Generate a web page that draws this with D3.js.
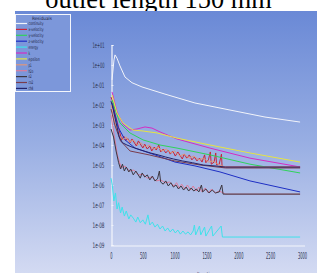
<!DOCTYPE html>
<html>
<head>
<meta charset="utf-8">
<script src="https://cdn.jsdelivr.net/npm/d3@7"></script>
<style>
  body { margin: 0; background: #fff; }
  svg { display: block; }
</style>
</head>
<body>
<script>
// residual histories, [iteration, residual]
const continuity = [[16, 0.18], [47, 1.8], [63, 3.2], [94, 2.2], [141, 0.9], [220, 0.25], [330, 0.13], [487, 0.08],
  [848, 0.035], [1319, 0.0126], [1869, 5.6e-3], [2419, 2.5e-3], [2970, 1.4e-3]];

const xVelocity = [[0, 2.5e-2], [30, 1.3e-2], [60, 4e-3], [100, 1.3e-3], [140, 4e-4], [170, 1.8e-4], [200, 2.8e-4],
  [230, 1.6e-4], [260, 2.2e-4], [300, 1.3e-4], [330, 2e-4], [360, 1.4e-4], [400, 8.9e-5], [430, 1.6e-4],
  [470, 1e-4], [500, 7.1e-5], [530, 1.1e-4], [570, 6.3e-5], [610, 8.9e-5], [640, 5e-5], [680, 7.9e-5],
  [710, 5.6e-5], [750, 1e-4], [780, 4.5e-5], [820, 6.3e-5], [860, 4e-5], [900, 5.6e-5], [930, 3.5e-5],
  [970, 5e-5], [1010, 2.8e-5], [1050, 4.5e-5], [1080, 3.2e-5], [1120, 2e-5], [1150, 3.5e-5], [1190, 2.2e-5],
  [1230, 3.2e-5], [1270, 1.8e-5], [1310, 2.5e-5], [1350, 1.6e-5], [1390, 2.2e-5], [1430, 1.4e-5], [1470, 3.2e-5],
  [1490, 1.3e-5], [1530, 1.8e-5], [1560, 4.5e-5], [1575, 1.1e-5], [1620, 1.4e-5], [1645, 4e-5], [1660, 1e-5],
  [1700, 1.1e-5], [1735, 3.5e-5], [1745, 7.9e-6], [2970, 7.9e-6]];

const yVelocity = [[16, 1.8e-2], [78, 4.5e-3], [141, 1.26e-3], [298, 4e-4], [503, 1.8e-4], [770, 1e-4],
  [1037, 7e-5], [1555, 3.2e-5], [2183, 1.1e-5], [2970, 4e-6]];

const zVelocity = [[16, 1.26e-2], [31, 8e-3], [110, 8e-4], [220, 1.8e-4], [377, 7e-5], [691, 3.2e-5],
  [1005, 1.4e-5], [1319, 9e-6], [1712, 4.5e-6], [2183, 1.6e-6], [2970, 4.5e-7]];

const energy = [[0, 2.2e-6], [20, 1e-6], [45, 1.6e-7], [70, 4e-7], [95, 6.3e-8], [120, 1.3e-7], [150, 4e-8],
  [175, 7.9e-8], [210, 2.8e-8], [240, 5e-8], [280, 2e-8], [310, 3.2e-8], [350, 2.2e-8], [390, 1.4e-8],
  [420, 2.5e-8], [460, 1.3e-8], [500, 1.8e-8], [540, 1.1e-8], [580, 3.2e-8], [610, 1e-8], [650, 1.4e-8],
  [690, 7.9e-9], [730, 1.1e-8], [770, 6.3e-9], [810, 8.9e-9], [850, 5e-9], [890, 7.1e-9], [930, 4.5e-9],
  [970, 6.3e-9], [1010, 4e-9], [1050, 5.6e-9], [1090, 3.5e-9], [1130, 5e-9], [1170, 3.5e-9], [1210, 4.5e-9],
  [1250, 3.2e-9], [1290, 5e-9], [1310, 1e-8], [1330, 3.2e-9], [1390, 8.9e-9], [1410, 3.2e-9], [1470, 7.9e-9],
  [1490, 2.8e-9], [1580, 8.9e-9], [1600, 2.8e-9], [1730, 8.9e-9], [1750, 2.5e-9], [2970, 2.5e-9]];

const kRes = [[16, 4.5e-2], [94, 4.5e-3], [188, 1.1e-3], [298, 5.6e-4], [408, 6.3e-4], [534, 8e-4], [644, 7e-4],
  [770, 4.5e-4], [1037, 2e-4], [1555, 7e-5], [2183, 2.2e-5], [2970, 8e-6]];

const epsilon = [[16, 3.2e-2], [94, 4e-3], [188, 1.26e-3], [346, 5.6e-4], [503, 5e-4], [723, 4e-4],
  [1037, 2.2e-4], [1555, 1e-4], [2183, 4e-5], [2970, 1.4e-5]];

const p1 = [[0, 1e-2], [50, 1.6e-3], [120, 3.2e-4], [190, 1.8e-4], [240, 2.5e-4], [290, 1.4e-4], [350, 1.8e-4],
  [420, 1e-4], [470, 1.3e-4], [540, 7.9e-5], [600, 1e-4], [670, 6.3e-5], [740, 7.9e-5], [800, 5e-5],
  [870, 6.3e-5], [940, 4e-5], [1000, 5e-5], [1080, 2.8e-5], [1150, 3.5e-5], [1230, 2.2e-5], [1300, 2.8e-5],
  [1380, 1.8e-5], [1450, 2.2e-5], [1530, 1.4e-5], [1600, 1.6e-5], [1700, 1e-5], [1800, 7.9e-6], [2970, 7.9e-6]];

const h2o = [[0, 3.2e-3], [50, 3.2e-4], [100, 3.2e-5], [160, 7.1e-6], [220, 8.9e-6], [290, 5e-6], [360, 5.6e-6],
  [430, 3.2e-6], [500, 3.5e-6], [570, 2.2e-6], [640, 2.5e-6], [710, 1.6e-6], [780, 1.8e-6], [850, 1.3e-6],
  [920, 1.4e-6], [990, 8.9e-7], [1030, 1.3e-6], [1070, 7.1e-7], [1110, 1.1e-6], [1160, 6.3e-7], [1200, 1e-6],
  [1250, 5.6e-7], [1290, 8.9e-7], [1340, 5e-7], [1380, 7.9e-7], [1430, 4.5e-7], [1480, 7.1e-7], [1530, 4e-7],
  [1580, 6.3e-7], [1640, 4e-7], [1700, 5e-7], [1800, 3.5e-7], [2970, 3.5e-7]];

const o2 = [[0, 6.3e-4], [40, 2.5e-4], [80, 5e-5], [120, 1.3e-5], [150, 6.3e-6], [180, 1.1e-5], [210, 5e-6],
  [240, 7.9e-6], [280, 4.5e-6], [310, 6.3e-6], [350, 3.2e-6], [390, 5e-6], [420, 3.5e-6], [460, 2.2e-6],
  [490, 4e-6], [530, 2.5e-6], [570, 3.2e-6], [610, 1.8e-6], [650, 2.8e-6], [690, 1.6e-6], [730, 2e-6],
  [760, 5e-6], [780, 1.4e-6], [820, 1.1e-6], [860, 1.6e-6], [900, 8.9e-7], [940, 1.3e-6], [980, 7.9e-7],
  [1020, 1e-6], [1060, 6.3e-7], [1100, 8.9e-7], [1140, 5.6e-7], [1180, 7.9e-7], [1220, 5e-7], [1260, 7.1e-7],
  [1300, 5e-7], [1340, 6.3e-7], [1380, 4.5e-7], [1420, 1e-6], [1440, 4.5e-7], [1490, 6.3e-7], [1540, 4e-7],
  [1590, 5.6e-7], [1640, 4e-7], [1700, 4.5e-7], [1740, 1e-6], [1760, 3.5e-7], [2970, 3.5e-7]];

const co2 = [[0, 6.3e-3], [60, 1e-3], [150, 1.6e-4], [300, 5e-5], [600, 3.2e-5], [1000, 1.6e-5],
  [1400, 1e-5], [1800, 7.1e-6], [2970, 7.1e-6]];

const ch4 = [[0, 1.6e-2], [40, 5e-3], [80, 1.3e-3], [130, 2.5e-4], [180, 1.3e-4], [250, 1e-4], [330, 7.9e-5],
  [420, 6.3e-5], [520, 5e-5], [620, 4e-5], [740, 3.2e-5], [860, 2.5e-5], [980, 2e-5], [1120, 1.6e-5],
  [1280, 1.3e-5], [1450, 1e-5], [1650, 8.9e-6], [1800, 7.9e-6], [2970, 7.9e-6]];

const seriesNames = ["continuity", "x-velocity", "y-velocity", "z-velocity", "energy", "k", "epsilon",
  "p1", "h2o", "o2", "co2", "ch4"];
const seriesData = [continuity, xVelocity, yVelocity, zVelocity, energy, kRes, epsilon, p1, h2o, o2, co2, ch4];
const seriesColors = ["#f2f4fa", "#c8243a", "#2fd35a", "#1e2fc4", "#3fe2ea", "#d42cc4", "#e6e442",
  "#e0967a", "#dc7c9c", "#3c3640", "#7a3c4c", "#24246a"];

const xTicks = [0, 500, 1000, 1500, 2000, 2500, 3000];
const yDecades = [1e1, 1, 1e-1, 1e-2, 1e-3, 1e-4, 1e-5, 1e-6, 1e-7, 1e-8, 1e-9];

const W = 317, H = 273;

const svg = d3.select("body").append("svg")
    .attr("width", W)
    .attr("height", H);

// title sits behind the plot image, only its lower part shows
svg.append("text")
    .attr("x", 158.5)
    .attr("y", 7.5)
    .attr("text-anchor", "middle")
    .attr("font-family", "Liberation Serif, Times New Roman, serif")
    .attr("font-size", 26.4)
    .attr("fill", "#000")
    .text("outlet length 150 mm");

const grad = svg.append("defs").append("linearGradient")
    .attr("id", "bg")
    .attr("x1", 0).attr("y1", 0).attr("x2", 0).attr("y2", 1);
grad.append("stop").attr("offset", "0%").attr("stop-color", "#6a89d6");
grad.append("stop").attr("offset", "50%").attr("stop-color", "#98aee3");
grad.append("stop").attr("offset", "100%").attr("stop-color", "#d3daf2");

svg.append("rect")
    .attr("x", 15).attr("y", 11)
    .attr("width", W - 15).attr("height", H - 11)
    .attr("fill", "url(#bg)");

const x = d3.scaleLinear().domain([0, 3000]).range([111, 302]);
const y = d3.scaleLog().domain([1e-9, 1e1]).range([245, 45]);

const labelColor = "#2e3552";
const expFormat = d => {
    const e = Math.round(Math.log10(d));
    return "1e" + (e < 0 ? "-" : "+") + String(Math.abs(e)).padStart(2, "0");
};

// y axis: minor ticks pointing into the plot
const yMinor = svg.append("g")
    .attr("transform", "translate(111.5,0)")
    .call(d3.axisRight(y).tickValues(y.ticks()).tickSize(2).tickFormat(""));
yMinor.select(".domain").attr("stroke", "#f4f6fc").attr("stroke-width", 1.2);
yMinor.selectAll(".tick line").attr("stroke", "#f4f6fc").attr("stroke-width", 0.8);

const yLabels = svg.append("g")
    .attr("transform", "translate(111.5,0)")
    .call(d3.axisLeft(y).tickValues(yDecades).tickSize(0).tickPadding(7).tickFormat(expFormat));
yLabels.select(".domain").remove();
yLabels.selectAll("text")
    .attr("font-family", "DejaVu Sans, sans-serif")
    .attr("font-size", 7.5)
    .attr("fill", labelColor)
    .attr("textLength", 12)
    .attr("lengthAdjust", "spacingAndGlyphs");

// x axis
const xAxis = svg.append("g")
    .attr("transform", "translate(0,246)")
    .call(d3.axisBottom(x).tickValues(xTicks).tickSize(0).tickPadding(7).tickFormat(d3.format("d")));
xAxis.select(".domain").attr("stroke", "#f4f6fc").attr("stroke-width", 1.2)
    .attr("d", `M${x(0)},0H${x(3000) + 3}`);
xAxis.selectAll("text")
    .attr("font-family", "DejaVu Sans, sans-serif")
    .attr("font-size", 8)
    .attr("fill", labelColor)
    .attr("textLength", d => String(d).length * 2.3)
    .attr("lengthAdjust", "spacingAndGlyphs");

svg.append("text")
    .attr("x", 207)
    .attr("y", 276.5)
    .attr("text-anchor", "middle")
    .attr("font-family", "DejaVu Sans, sans-serif")
    .attr("font-size", 7)
    .attr("fill", labelColor)
    .attr("textLength", 20)
    .attr("lengthAdjust", "spacingAndGlyphs")
    .text("Iterations");

// residual curves
const line = d3.line()
    .x(d => x(d[0]))
    .y(d => y(d[1]));

svg.append("g")
    .attr("fill", "none")
    .attr("stroke-width", 1)
    .attr("stroke-linejoin", "round")
    .selectAll("path")
    .data(seriesData)
    .join("path")
    .attr("stroke", (d, i) => seriesColors[i])
    .attr("d", line);

// legend
const legend = svg.append("g");
legend.append("rect")
    .attr("x", 15.5).attr("y", 14.5)
    .attr("width", 55).attr("height", 77)
    .attr("fill", "#7c97da")
    .attr("stroke", "#f4f6fc")
    .attr("stroke-width", 1);

legend.append("text")
    .attr("x", 32).attr("y", 20)
    .attr("font-family", "DejaVu Sans, sans-serif")
    .attr("font-size", 4.5)
    .attr("fill", "#1c2240")
    .attr("textLength", 20)
    .attr("lengthAdjust", "spacingAndGlyphs")
    .text("Residuals");

const rows = legend.selectAll("g.row")
    .data(seriesNames)
    .join("g")
    .attr("class", "row")
    .attr("transform", (d, i) => `translate(0,${23.5 + i * 5.9})`);

rows.append("line")
    .attr("x1", 16).attr("x2", 27)
    .attr("stroke", (d, i) => seriesColors[i])
    .attr("stroke-width", 1.2);

rows.append("text")
    .attr("x", 28.5).attr("y", 1.8)
    .attr("font-family", "DejaVu Sans, sans-serif")
    .attr("font-size", 4.8)
    .attr("fill", "#1c2240")
    .attr("textLength", d => Math.min(15, d.length * 1.6))
    .attr("lengthAdjust", "spacingAndGlyphs")
    .text(d => d);
</script>
</body>
</html>
